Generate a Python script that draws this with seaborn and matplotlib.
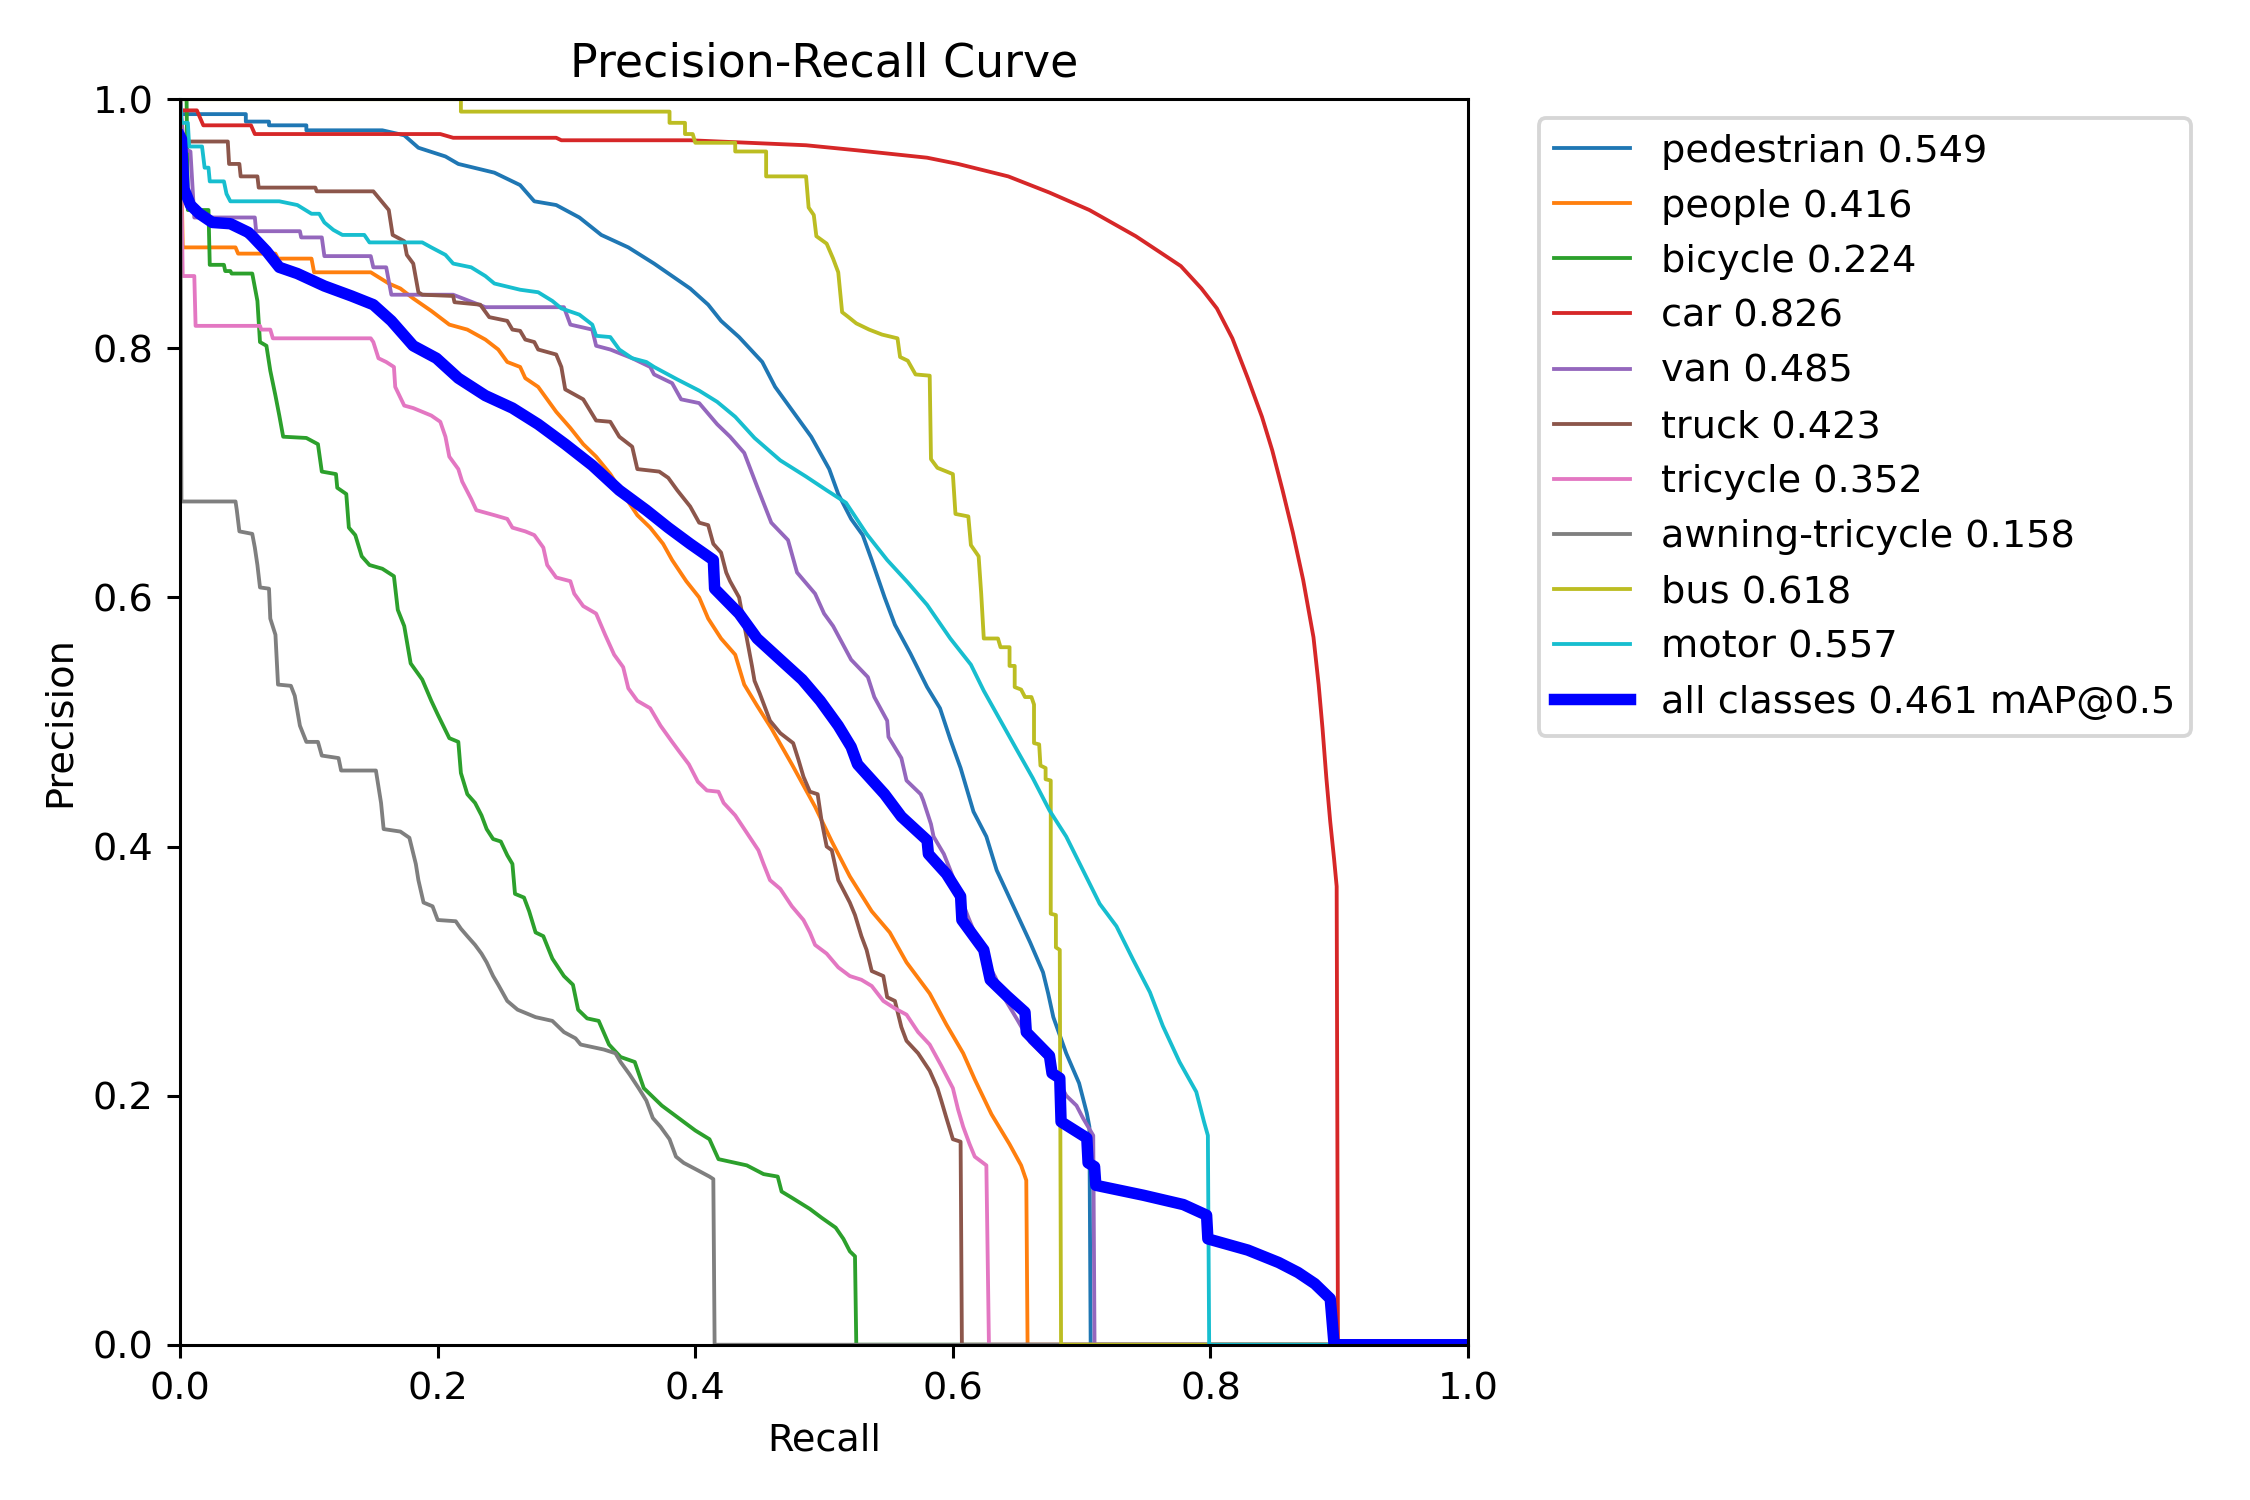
import matplotlib
matplotlib.use("Agg")
import matplotlib.pyplot as plt
import seaborn as sns
import pandas as pd

class_names = ["pedestrian", "people", "bicycle", "car", "van", "truck",
               "tricycle", "awning-tricycle", "bus", "motor"]
class_ap = [0.549, 0.416, 0.224, 0.826, 0.485, 0.423, 0.352, 0.158, 0.618, 0.557]
map50 = 0.461

# (recall, precision) points
pedestrian = [(0, 1.0), (0.001, 0.988), (0.051, 0.988), (0.051, 0.982), (0.069, 0.982), (0.069, 0.979),
              (0.098, 0.979), (0.098, 0.975), (0.157, 0.975), (0.174, 0.971), (0.185, 0.961), (0.206, 0.954),
              (0.216, 0.948), (0.244, 0.941), (0.264, 0.931), (0.275, 0.918), (0.292, 0.915), (0.310, 0.905),
              (0.327, 0.891), (0.348, 0.881), (0.368, 0.868), (0.382, 0.858), (0.396, 0.848), (0.410, 0.835),
              (0.420, 0.822), (0.434, 0.809), (0.452, 0.789), (0.462, 0.769), (0.476, 0.749), (0.490, 0.729),
              (0.504, 0.703), (0.511, 0.683), (0.521, 0.663), (0.530, 0.650), (0.537, 0.630), (0.547, 0.600),
              (0.555, 0.578), (0.567, 0.555), (0.580, 0.528), (0.590, 0.511), (0.598, 0.486), (0.606, 0.463),
              (0.616, 0.428), (0.626, 0.408), (0.634, 0.381), (0.647, 0.352), (0.660, 0.323), (0.670, 0.299),
              (0.674, 0.282), (0.678, 0.263), (0.688, 0.234), (0.698, 0.210), (0.704, 0.186), (0.706, 0.175),
              (0.707, 0.0), (1.0, 0.0)]

people = [(0, 1.0), (0.002, 0.881), (0.043, 0.881), (0.045, 0.876), (0.074, 0.876), (0.076, 0.872),
          (0.102, 0.872), (0.104, 0.861), (0.148, 0.861), (0.162, 0.852), (0.171, 0.848), (0.181, 0.840),
          (0.195, 0.830), (0.209, 0.819), (0.223, 0.815), (0.237, 0.807), (0.247, 0.799), (0.254, 0.789),
          (0.264, 0.785), (0.268, 0.776), (0.278, 0.769), (0.285, 0.759), (0.292, 0.749), (0.303, 0.736),
          (0.313, 0.723), (0.323, 0.713), (0.334, 0.699), (0.344, 0.683), (0.355, 0.666), (0.365, 0.656),
          (0.375, 0.643), (0.382, 0.630), (0.393, 0.613), (0.403, 0.600), (0.410, 0.583), (0.420, 0.567),
          (0.431, 0.554), (0.438, 0.530), (0.448, 0.513), (0.459, 0.495), (0.475, 0.466), (0.493, 0.432),
          (0.506, 0.404), (0.520, 0.376), (0.537, 0.348), (0.551, 0.331), (0.564, 0.307), (0.582, 0.282),
          (0.595, 0.257), (0.608, 0.234), (0.617, 0.213), (0.630, 0.185), (0.644, 0.161), (0.653, 0.144),
          (0.657, 0.132), (0.658, 0.0), (1.0, 0.0)]

bicycle = [(0, 1.0), (0.005, 1.0), (0.006, 0.911), (0.022, 0.911), (0.023, 0.867), (0.034, 0.867),
           (0.035, 0.862), (0.039, 0.862), (0.040, 0.860), (0.056, 0.860), (0.060, 0.838), (0.062, 0.805),
           (0.067, 0.802), (0.070, 0.782), (0.074, 0.762), (0.077, 0.746), (0.080, 0.729), (0.098, 0.728),
           (0.107, 0.723), (0.110, 0.701), (0.121, 0.699), (0.122, 0.688), (0.129, 0.683), (0.131, 0.656),
           (0.136, 0.650), (0.141, 0.633), (0.147, 0.626), (0.157, 0.623), (0.166, 0.617), (0.169, 0.590),
           (0.174, 0.577), (0.179, 0.547), (0.188, 0.534), (0.195, 0.517), (0.200, 0.506), (0.209, 0.487),
           (0.216, 0.484), (0.218, 0.459), (0.223, 0.442), (0.229, 0.435), (0.234, 0.425), (0.238, 0.414),
           (0.243, 0.406), (0.249, 0.404), (0.254, 0.393), (0.258, 0.386), (0.260, 0.362), (0.267, 0.359),
           (0.271, 0.348), (0.276, 0.331), (0.282, 0.328), (0.289, 0.310), (0.298, 0.296), (0.305, 0.289),
           (0.309, 0.269), (0.316, 0.262), (0.325, 0.260), (0.333, 0.241), (0.342, 0.231), (0.353, 0.227),
           (0.360, 0.206), (0.374, 0.192), (0.387, 0.182), (0.400, 0.172), (0.411, 0.165), (0.418, 0.149),
           (0.440, 0.144), (0.453, 0.137), (0.464, 0.135), (0.467, 0.123), (0.475, 0.118), (0.489, 0.109),
           (0.498, 0.102), (0.509, 0.094), (0.515, 0.085), (0.520, 0.075), (0.524, 0.071), (0.525, 0.0),
           (1.0, 0.0)]

car = [(0, 1.0), (0.001, 0.991), (0.013, 0.991), (0.018, 0.979), (0.055, 0.979), (0.058, 0.972),
       (0.202, 0.972), (0.212, 0.969), (0.292, 0.969), (0.296, 0.967), (0.396, 0.967), (0.486, 0.963),
       (0.525, 0.959), (0.580, 0.953), (0.604, 0.948), (0.643, 0.938), (0.675, 0.925), (0.706, 0.911),
       (0.742, 0.890), (0.761, 0.877), (0.777, 0.866), (0.793, 0.848), (0.805, 0.832), (0.817, 0.808),
       (0.829, 0.776), (0.840, 0.745), (0.848, 0.718), (0.856, 0.686), (0.864, 0.652), (0.872, 0.614),
       (0.880, 0.568), (0.884, 0.530), (0.887, 0.495), (0.890, 0.455), (0.893, 0.420), (0.896, 0.390),
       (0.898, 0.368), (0.899, 0.0), (1.0, 0.0)]

van = [(0, 1.0), (0.003, 0.960), (0.008, 0.958), (0.011, 0.905), (0.058, 0.905), (0.059, 0.894),
       (0.093, 0.894), (0.094, 0.889), (0.110, 0.889), (0.112, 0.874), (0.148, 0.874), (0.150, 0.865),
       (0.160, 0.865), (0.164, 0.843), (0.212, 0.843), (0.237, 0.833), (0.298, 0.833), (0.303, 0.819),
       (0.320, 0.815), (0.323, 0.802), (0.334, 0.799), (0.351, 0.792), (0.365, 0.785), (0.368, 0.779),
       (0.382, 0.772), (0.389, 0.759), (0.403, 0.756), (0.417, 0.739), (0.427, 0.729), (0.438, 0.716),
       (0.448, 0.689), (0.459, 0.660), (0.472, 0.646), (0.479, 0.620), (0.493, 0.603), (0.500, 0.587),
       (0.507, 0.577), (0.521, 0.550), (0.534, 0.536), (0.539, 0.520), (0.549, 0.501), (0.550, 0.488),
       (0.560, 0.471), (0.564, 0.453), (0.575, 0.442), (0.577, 0.437), (0.583, 0.418), (0.585, 0.408),
       (0.593, 0.394), (0.598, 0.381), (0.605, 0.362), (0.612, 0.343), (0.625, 0.310), (0.633, 0.295),
       (0.639, 0.280), (0.650, 0.261), (0.660, 0.243), (0.673, 0.230), (0.688, 0.200), (0.696, 0.192),
       (0.701, 0.182), (0.709, 0.168), (0.710, 0.0), (1.0, 0.0)]

truck = [(0, 1.0), (0.001, 0.966), (0.037, 0.966), (0.038, 0.948), (0.046, 0.948), (0.047, 0.938),
         (0.060, 0.938), (0.061, 0.929), (0.105, 0.929), (0.106, 0.926), (0.150, 0.926), (0.162, 0.911),
         (0.165, 0.891), (0.174, 0.886), (0.176, 0.875), (0.181, 0.868), (0.185, 0.845), (0.188, 0.843),
         (0.212, 0.842), (0.213, 0.837), (0.233, 0.835), (0.240, 0.825), (0.254, 0.822), (0.258, 0.815),
         (0.264, 0.814), (0.268, 0.807), (0.275, 0.805), (0.278, 0.799), (0.292, 0.795), (0.296, 0.785),
         (0.299, 0.767), (0.313, 0.759), (0.323, 0.742), (0.334, 0.741), (0.341, 0.729), (0.351, 0.721),
         (0.355, 0.703), (0.372, 0.701), (0.379, 0.696), (0.386, 0.686), (0.396, 0.673), (0.403, 0.660),
         (0.410, 0.658), (0.414, 0.643), (0.420, 0.636), (0.424, 0.620), (0.427, 0.613), (0.434, 0.600),
         (0.440, 0.567), (0.444, 0.545), (0.446, 0.533), (0.450, 0.523), (0.458, 0.501), (0.466, 0.491),
         (0.476, 0.483), (0.480, 0.470), (0.484, 0.456), (0.489, 0.444), (0.495, 0.442), (0.498, 0.421),
         (0.502, 0.400), (0.506, 0.397), (0.511, 0.373), (0.520, 0.355), (0.524, 0.345), (0.529, 0.328),
         (0.533, 0.317), (0.537, 0.300), (0.546, 0.296), (0.549, 0.279), (0.555, 0.276), (0.560, 0.255),
         (0.564, 0.244), (0.573, 0.234), (0.582, 0.220), (0.588, 0.206), (0.591, 0.196), (0.595, 0.182),
         (0.600, 0.165), (0.606, 0.163), (0.607, 0.0), (1.0, 0.0)]

tricycle = [(0, 1.0), (0.002, 0.858), (0.011, 0.858), (0.012, 0.818), (0.062, 0.818), (0.063, 0.815),
            (0.070, 0.815), (0.072, 0.808), (0.148, 0.808), (0.150, 0.805), (0.154, 0.792), (0.160, 0.789),
            (0.166, 0.785), (0.167, 0.769), (0.174, 0.754), (0.181, 0.752), (0.188, 0.749), (0.195, 0.746),
            (0.202, 0.741), (0.206, 0.729), (0.209, 0.713), (0.216, 0.703), (0.219, 0.693), (0.226, 0.679),
            (0.230, 0.670), (0.244, 0.666), (0.254, 0.663), (0.258, 0.656), (0.268, 0.653), (0.275, 0.650),
            (0.282, 0.640), (0.285, 0.626), (0.292, 0.616), (0.303, 0.613), (0.306, 0.603), (0.313, 0.593),
            (0.323, 0.587), (0.330, 0.570), (0.337, 0.554), (0.344, 0.544), (0.348, 0.527), (0.355, 0.517),
            (0.365, 0.511), (0.373, 0.497), (0.382, 0.484), (0.387, 0.477), (0.395, 0.466), (0.402, 0.452),
            (0.409, 0.445), (0.418, 0.444), (0.422, 0.435), (0.431, 0.425), (0.440, 0.411), (0.449, 0.397),
            (0.453, 0.386), (0.458, 0.373), (0.466, 0.366), (0.475, 0.352), (0.484, 0.341), (0.489, 0.331),
            (0.493, 0.321), (0.502, 0.314), (0.511, 0.303), (0.520, 0.296), (0.529, 0.293), (0.537, 0.288),
            (0.546, 0.276), (0.555, 0.270), (0.564, 0.265), (0.573, 0.251), (0.582, 0.241), (0.591, 0.224),
            (0.600, 0.206), (0.604, 0.189), (0.608, 0.175), (0.613, 0.161), (0.617, 0.151), (0.626, 0.144),
            (0.628, 0.0), (1.0, 0.0)]

awning_tricycle = [(0, 1.0), (0.001, 0.677), (0.043, 0.677), (0.044, 0.670), (0.046, 0.653), (0.056, 0.651),
                   (0.058, 0.640), (0.060, 0.626), (0.062, 0.608), (0.069, 0.607), (0.070, 0.583), (0.074, 0.570),
                   (0.076, 0.530), (0.086, 0.529), (0.089, 0.521), (0.093, 0.497), (0.098, 0.484), (0.107, 0.484),
                   (0.110, 0.473), (0.123, 0.471), (0.125, 0.461), (0.152, 0.461), (0.156, 0.435), (0.158, 0.414),
                   (0.171, 0.412), (0.178, 0.407), (0.183, 0.386), (0.185, 0.373), (0.189, 0.355), (0.196, 0.352),
                   (0.200, 0.341), (0.214, 0.340), (0.218, 0.334), (0.223, 0.328), (0.229, 0.321), (0.234, 0.314),
                   (0.238, 0.307), (0.243, 0.296), (0.247, 0.289), (0.254, 0.276), (0.262, 0.269), (0.276, 0.263),
                   (0.289, 0.260), (0.298, 0.251), (0.307, 0.246), (0.311, 0.241), (0.329, 0.237), (0.338, 0.234),
                   (0.342, 0.227), (0.349, 0.217), (0.356, 0.206), (0.362, 0.196), (0.367, 0.182), (0.373, 0.175),
                   (0.380, 0.165), (0.385, 0.151), (0.391, 0.146), (0.402, 0.140), (0.411, 0.135), (0.414, 0.133),
                   (0.415, 0.0), (1.0, 0.0)]

bus = [(0, 1.0), (0.218, 1.0), (0.218, 0.990), (0.380, 0.990), (0.380, 0.981), (0.392, 0.981),
       (0.392, 0.972), (0.398, 0.972), (0.400, 0.965), (0.431, 0.965), (0.431, 0.958), (0.455, 0.958),
       (0.455, 0.938), (0.486, 0.938), (0.488, 0.913), (0.492, 0.907), (0.494, 0.890), (0.502, 0.884),
       (0.507, 0.872), (0.511, 0.861), (0.514, 0.829), (0.519, 0.825), (0.525, 0.820), (0.535, 0.815),
       (0.545, 0.811), (0.557, 0.808), (0.559, 0.793), (0.565, 0.790), (0.571, 0.779), (0.582, 0.778),
       (0.583, 0.711), (0.588, 0.704), (0.600, 0.699), (0.602, 0.667), (0.612, 0.665), (0.614, 0.642),
       (0.620, 0.633), (0.622, 0.603), (0.624, 0.567), (0.635, 0.567), (0.637, 0.560), (0.644, 0.560),
       (0.644, 0.545), (0.648, 0.545), (0.648, 0.528), (0.653, 0.526), (0.656, 0.520), (0.661, 0.520),
       (0.663, 0.514), (0.663, 0.483), (0.667, 0.482), (0.668, 0.465), (0.672, 0.463), (0.672, 0.454),
       (0.676, 0.453), (0.676, 0.346), (0.680, 0.345), (0.680, 0.319), (0.683, 0.317), (0.684, 0.0),
       (1.0, 0.0)]

motor = [(0, 1.0), (0.001, 0.981), (0.006, 0.981), (0.007, 0.962), (0.017, 0.962), (0.019, 0.945),
         (0.022, 0.945), (0.023, 0.934), (0.034, 0.934), (0.036, 0.924), (0.039, 0.918), (0.077, 0.918),
         (0.091, 0.915), (0.102, 0.908), (0.108, 0.908), (0.112, 0.901), (0.119, 0.895), (0.126, 0.891),
         (0.143, 0.891), (0.147, 0.885), (0.188, 0.885), (0.195, 0.881), (0.206, 0.875), (0.212, 0.868),
         (0.226, 0.865), (0.237, 0.858), (0.244, 0.852), (0.264, 0.847), (0.278, 0.845), (0.289, 0.838),
         (0.296, 0.832), (0.310, 0.827), (0.320, 0.819), (0.323, 0.810), (0.334, 0.809), (0.341, 0.799),
         (0.351, 0.792), (0.362, 0.789), (0.368, 0.785), (0.386, 0.775), (0.403, 0.766), (0.417, 0.757),
         (0.431, 0.745), (0.446, 0.728), (0.466, 0.710), (0.486, 0.697), (0.502, 0.686), (0.517, 0.676),
         (0.533, 0.651), (0.549, 0.630), (0.565, 0.612), (0.580, 0.594), (0.598, 0.567), (0.614, 0.546),
         (0.624, 0.525), (0.637, 0.501), (0.650, 0.477), (0.662, 0.455), (0.675, 0.429), (0.688, 0.408),
         (0.701, 0.381), (0.714, 0.354), (0.727, 0.336), (0.740, 0.309), (0.753, 0.283), (0.763, 0.256),
         (0.776, 0.227), (0.789, 0.203), (0.795, 0.179), (0.798, 0.168), (0.799, 0.0), (1.0, 0.0)]

all_classes = [(0, 0.970), (0.001, 0.968), (0.003, 0.928), (0.008, 0.915), (0.015, 0.908), (0.025, 0.901),
               (0.039, 0.900), (0.053, 0.893), (0.056, 0.890), (0.067, 0.878), (0.077, 0.865), (0.091, 0.860),
               (0.112, 0.850), (0.133, 0.842), (0.150, 0.835), (0.164, 0.822), (0.181, 0.802), (0.199, 0.792),
               (0.216, 0.776), (0.237, 0.762), (0.258, 0.752), (0.278, 0.739), (0.299, 0.723), (0.320, 0.706),
               (0.341, 0.686), (0.362, 0.670), (0.379, 0.656), (0.396, 0.643), (0.414, 0.630), (0.415, 0.607),
               (0.434, 0.587), (0.448, 0.567), (0.466, 0.550), (0.483, 0.534), (0.497, 0.517), (0.511, 0.497),
               (0.521, 0.480), (0.526, 0.466), (0.547, 0.442), (0.560, 0.424), (0.580, 0.405), (0.581, 0.394),
               (0.595, 0.378), (0.606, 0.360), (0.607, 0.341), (0.624, 0.317), (0.629, 0.293), (0.642, 0.280),
               (0.656, 0.267), (0.657, 0.251), (0.675, 0.232), (0.677, 0.218), (0.683, 0.214), (0.684, 0.179),
               (0.704, 0.166), (0.705, 0.146), (0.710, 0.143), (0.711, 0.128), (0.748, 0.120), (0.779, 0.1125),
               (0.797, 0.104), (0.798, 0.085), (0.829, 0.076), (0.853, 0.066), (0.868, 0.058), (0.881, 0.049),
               (0.893, 0.037), (0.896, 0.0), (1.0, 0.0)]

class_curves = [pedestrian, people, bicycle, car, van, truck, tricycle, awning_tricycle, bus, motor]
palette = sns.color_palette("tab10", 10)

DPI = 275
fig, ax = plt.subplots(1, 1, figsize=(2250 / DPI, 1500 / DPI), dpi=DPI)

for name, ap, pts, col in zip(class_names, class_ap, class_curves, palette):
    df = pd.DataFrame(pts, columns=["recall", "precision"])
    sns.lineplot(data=df, x="recall", y="precision", ax=ax, sort=False, estimator=None,
                 linewidth=1, color=col, label=f"{name} {ap:.3f}")

df_all = pd.DataFrame(all_classes, columns=["recall", "precision"])
sns.lineplot(data=df_all, x="recall", y="precision", ax=ax, sort=False, estimator=None,
             linewidth=3, color="blue", label=f"all classes {map50:.3f} mAP@0.5")

ax.set_xlabel("Recall")
ax.set_ylabel("Precision")
ax.set_xlim(0, 1)
ax.set_ylim(0, 1)
ax.set_title("Precision-Recall Curve")
ax.legend(bbox_to_anchor=(1.04, 1), loc="upper left")
fig.tight_layout()
fig.savefig("out.png", dpi=DPI)
